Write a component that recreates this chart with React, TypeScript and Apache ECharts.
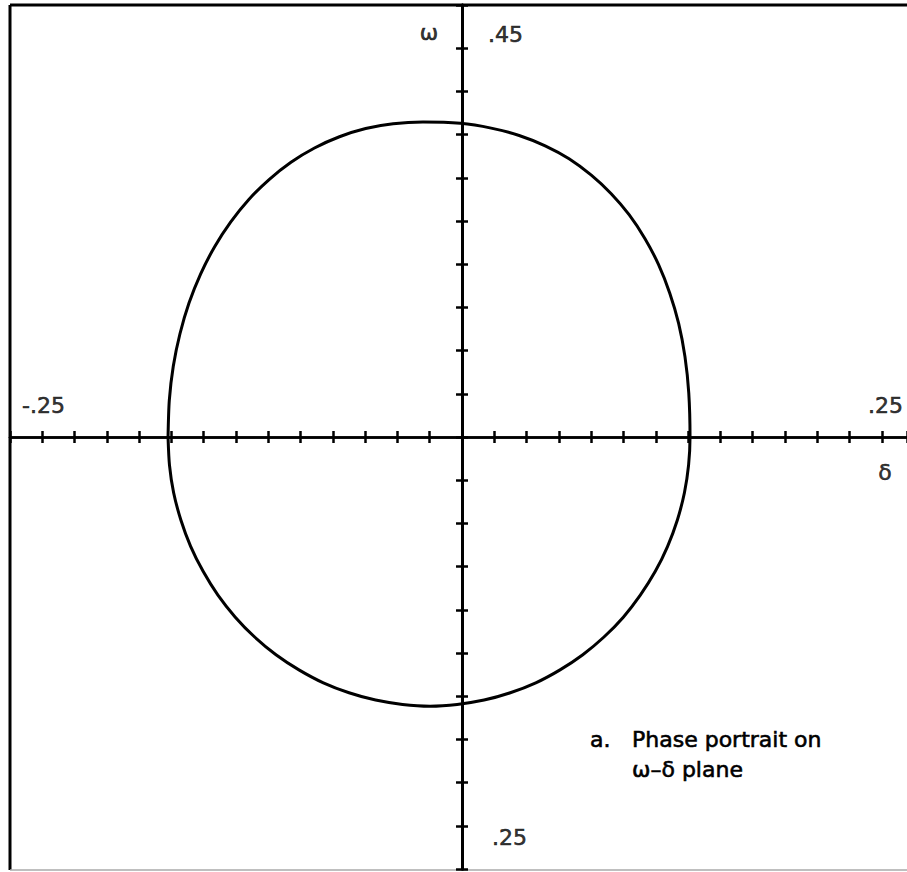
import { useEffect, useRef } from 'react';
import * as echarts from 'echarts';

// Axis ranges and tick spacing
const DELTA_MIN = -0.25;
const DELTA_MAX = 0.2461;
const DELTA_STEP = 0.25 / 14;
const OMEGA_MIN = 0.25;
const OMEGA_MAX = 0.45;
const OMEGA_STEP = 0.01;
const OMEGA_CROSS = 0.35;

// Closed trajectory in the ω–δ plane, traced clockwise from the left crossing
const DELTA = [
  -0.1626, -0.1619, -0.1597, -0.156, -0.151, -0.1446, -0.1369, -0.1279, -0.1179, -0.1067,
  -0.0946, -0.0816, -0.0678, -0.0533, -0.0381, -0.0216,
  -0.0009, 0.0161, 0.0316, 0.046, 0.0592, 0.0715, 0.0825, 0.0925, 0.1012, 0.1087,
  0.1149, 0.1198, 0.1233, 0.1254, 0.1261,
  0.1253, 0.123, 0.1191, 0.1137, 0.1069, 0.0986, 0.0892, 0.0785, 0.0668, 0.0542,
  0.0408, 0.0267, 0.0122, -0.0027, -0.0177,
  -0.0329, -0.0478, -0.0625, -0.0767, -0.0902, -0.1029, -0.1147, -0.1254, -0.135, -0.1432,
  -0.1501, -0.1555, -0.1595, -0.1618, -0.1626,
];
const OMEGA = [
  0.35, 0.3585, 0.3664, 0.3739, 0.381, 0.3877, 0.394, 0.3998, 0.405, 0.4096,
  0.4136, 0.4169, 0.4195, 0.4214, 0.4225, 0.4229,
  0.4226, 0.4215, 0.4198, 0.4174, 0.4144, 0.4106, 0.4063, 0.4014, 0.3959, 0.3899,
  0.3833, 0.3763, 0.3686, 0.3602, 0.35,
  0.3435, 0.3371, 0.3308, 0.3247, 0.3189, 0.3134, 0.3083, 0.3037, 0.2996, 0.2961,
  0.2931, 0.2908, 0.2891, 0.2881, 0.2877,
  0.2881, 0.2891, 0.2908, 0.2931, 0.2961, 0.2996, 0.3037, 0.3083, 0.3134, 0.3189,
  0.3247, 0.3308, 0.3371, 0.3435, 0.35,
];

// Axis end labels and axis names
const DELTA_END_LABELS = ['-.25', '.25'];
const OMEGA_END_LABELS = ['.45', '.25'];
const DELTA_NAME = 'δ';
const OMEGA_NAME = 'ω';
const CAPTION_TAG = 'a.';
const CAPTION_LINES = ['Phase portrait on', 'ω–δ plane'];

const INK = '#000';
const FONT = 'DejaVu Sans';
const FONT_SIZE = 22;

export default function App() {
  const ref = useRef<HTMLDivElement>(null);

  useEffect(() => {
    if (!ref.current) return;
    const chart = echarts.init(ref.current, null, { renderer: 'svg' });

    const gridHeight = 864;

    const xBase = {
      type: 'value' as const,
      min: DELTA_MIN,
      max: DELTA_MAX,
      interval: DELTA_STEP,
      position: 'bottom' as const,
      offset: -gridHeight / 2,
      axisLine: { show: true, onZero: false, lineStyle: { color: INK, width: 2.5 } },
      axisLabel: { show: false },
      splitLine: { show: false },
    };
    const yBase = {
      type: 'value' as const,
      min: OMEGA_MIN,
      max: OMEGA_MAX,
      interval: OMEGA_STEP,
      position: 'left' as const,
      axisLine: { show: true, onZero: true, lineStyle: { color: INK, width: 3 } },
      axisLabel: { show: false },
      splitLine: { show: false },
    };
    const tick = (inside: boolean) => ({
      show: true,
      inside,
      length: 6,
      lineStyle: { color: INK, width: 2.5 },
    });

    const labelStyle = {
      show: true,
      color: INK,
      fontFamily: FONT,
      fontSize: FONT_SIZE,
      textBorderColor: INK,
      textBorderWidth: 0.6,
      verticalAlign: 'middle' as const,
    };

    const endLabels = [
      { value: [DELTA_MIN, OMEGA_CROSS], text: DELTA_END_LABELS[0], pos: [12, -32], align: 'left' },
      { value: [DELTA_MAX, OMEGA_CROSS], text: DELTA_END_LABELS[1], pos: [-4, -32], align: 'right' },
      { value: [DELTA_MAX, OMEGA_CROSS], text: DELTA_NAME, pos: [-22, 35], align: 'center' },
      { value: [0, OMEGA_MAX], text: OMEGA_NAME, pos: [-33, 27], align: 'center' },
      { value: [0, OMEGA_MAX], text: OMEGA_END_LABELS[0], pos: [26, 29], align: 'left' },
      { value: [0, OMEGA_MIN], text: OMEGA_END_LABELS[1], pos: [30, -32], align: 'left' },
    ].map((d) => ({
      value: d.value,
      label: { ...labelStyle, formatter: d.text, position: d.pos, align: d.align },
    }));

    const captionStyle = {
      fill: INK,
      stroke: INK,
      lineWidth: 0.6,
      font: `${FONT_SIZE}px "${FONT}"`,
      align: 'left',
      verticalAlign: 'middle',
      textAlign: 'left',
      textVerticalAlign: 'middle',
    };

    chart.setOption({
      animation: false,
      backgroundColor: '#fff',
      grid: { left: 10, top: 5, width: 897, height: gridHeight },
      xAxis: [
        { ...xBase, axisTick: tick(false) },
        { ...xBase, axisTick: tick(true) },
      ],
      yAxis: [
        { ...yBase, axisTick: tick(false) },
        { ...yBase, axisTick: tick(true) },
      ],
      series: [
        {
          type: 'line',
          xAxisIndex: 0,
          yAxisIndex: 0,
          data: DELTA.map((d, i) => [d, OMEGA[i]]),
          smooth: 0.25,
          showSymbol: false,
          symbol: 'none',
          lineStyle: { color: INK, width: 3, join: 'round', cap: 'round' },
          silent: true,
        },
        {
          type: 'scatter',
          xAxisIndex: 0,
          yAxisIndex: 0,
          symbolSize: 0,
          clip: false,
          silent: true,
          data: endLabels,
        },
      ],
      graphic: [
        { type: 'line', shape: { x1: 10, y1: 5, x2: 10, y2: 870 }, style: { stroke: INK, lineWidth: 3 } },
        { type: 'line', shape: { x1: 10, y1: 5, x2: 907, y2: 5 }, style: { stroke: INK, lineWidth: 3 } },
        { type: 'line', shape: { x1: 10, y1: 870, x2: 907, y2: 870 }, style: { stroke: '#aaa', lineWidth: 1.5 } },
        { type: 'text', x: 590, y: 739, style: { ...captionStyle, text: CAPTION_TAG } },
        { type: 'text', x: 632, y: 739, style: { ...captionStyle, text: CAPTION_LINES[0] } },
        { type: 'text', x: 632, y: 769, style: { ...captionStyle, text: CAPTION_LINES[1] } },
      ],
    });

    return () => chart.dispose();
  }, []);

  return (
    <div
      ref={ref}
      style={{ position: 'absolute', left: 0, top: 0, width: 907, height: 872 }}
    />
  );
}
